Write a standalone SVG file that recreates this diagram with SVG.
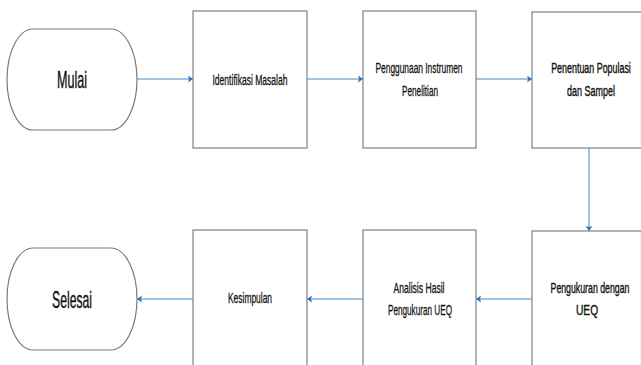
<svg xmlns="http://www.w3.org/2000/svg" width="641" height="365" viewBox="0 0 641 365">
<style>
.box{fill:#fff;stroke:#808080;stroke-width:1.2}
.term{fill:#fff;stroke:#7a7a7a;stroke-width:1.2}
.lbl{font-family:"Liberation Sans",Arial,sans-serif;font-size:15.5px;fill:#111;stroke:#111;stroke-width:0.3;text-anchor:middle}
.nar{stroke-width:0.4}
.big{font-family:"Liberation Sans",Arial,sans-serif;font-size:24px;fill:#111;stroke:#111;stroke-width:0.4;text-anchor:middle}
.conn{fill:none;stroke:#7fb2dc;stroke-width:1.5}
</style>
<defs>
<marker id="ah" markerUnits="userSpaceOnUse" markerWidth="8" markerHeight="8" refX="5" refY="3.5" orient="auto">
<path d="M0,0 L5,3.5 L0,7 L1,3.5 Z" fill="#2e75b6"/>
</marker>
</defs>
<rect width="641" height="365" fill="#fff"/>
<g id="connectors">
<line class="conn" x1="137" y1="79" x2="193" y2="79" marker-end="url(#ah)"/>
<line class="conn" x1="307" y1="79" x2="363" y2="79" marker-end="url(#ah)"/>
<line class="conn" x1="476" y1="79" x2="532" y2="79" marker-end="url(#ah)"/>
<line class="conn" x1="589" y1="148" x2="589" y2="231" marker-end="url(#ah)"/>
<line class="conn" x1="532" y1="299" x2="476" y2="299" marker-end="url(#ah)"/>
<line class="conn" x1="363" y1="299" x2="307" y2="299" marker-end="url(#ah)"/>
<line class="conn" x1="193" y1="299" x2="137" y2="299" marker-end="url(#ah)"/>
</g>
<g id="mulai">
<path class="term" d="M33,29 H111 A26,50.5 0 0 1 111,130 H33 A26,50.5 0 0 1 33,29 Z"/>
<text class="big" x="72" y="88" textLength="30" lengthAdjust="spacingAndGlyphs">Mulai</text>
</g>
<g id="identifikasi">
<rect class="box" x="193" y="11" width="114" height="137"/>
<text class="lbl" x="250" y="85" textLength="75" lengthAdjust="spacingAndGlyphs">Identifikasi Masalah</text>
</g>
<g id="penggunaan">
<rect class="box" x="363" y="11" width="113" height="137"/>
<text class="lbl" x="419" y="73" textLength="87" lengthAdjust="spacingAndGlyphs">Penggunaan Instrumen</text>
<text class="lbl" x="420" y="95.5" textLength="36" lengthAdjust="spacingAndGlyphs">Penelitian</text>
</g>
<g id="penentuan">
<rect class="box" x="532" y="12" width="109.5" height="136"/>
<text class="lbl nar" transform="matrix(0.575,0,0,1,591,73)">Penentuan Populasi</text>
<text class="lbl nar" transform="matrix(0.58,0,0,1,591,95.5)">dan Sampel</text>
</g>
<g id="pengukuran">
<rect class="box" x="532" y="231" width="109.5" height="140"/>
<text class="lbl nar" transform="matrix(0.566,0,0,1,590,293)">Pengukuran dengan</text>
<text class="lbl nar" transform="matrix(0.66,0,0,1,587,315)">UEQ</text>
</g>
<g id="analisis">
<rect class="box" x="363" y="230" width="113" height="140"/>
<text class="lbl" x="419" y="293" textLength="51" lengthAdjust="spacingAndGlyphs">Analisis Hasil</text>
<text class="lbl" x="420" y="314.5" textLength="64" lengthAdjust="spacingAndGlyphs">Pengukuran UEQ</text>
</g>
<g id="kesimpulan">
<rect class="box" x="193" y="230" width="114" height="140"/>
<text class="lbl" x="250" y="303" textLength="44" lengthAdjust="spacingAndGlyphs">Kesimpulan</text>
</g>
<g id="selesai">
<path class="term" d="M33,248 H111 A26,51 0 0 1 111,350 H33 A26,51 0 0 1 33,248 Z"/>
<text class="big" x="72" y="308" textLength="40" lengthAdjust="spacingAndGlyphs">Selesai</text>
</g>
</svg>
